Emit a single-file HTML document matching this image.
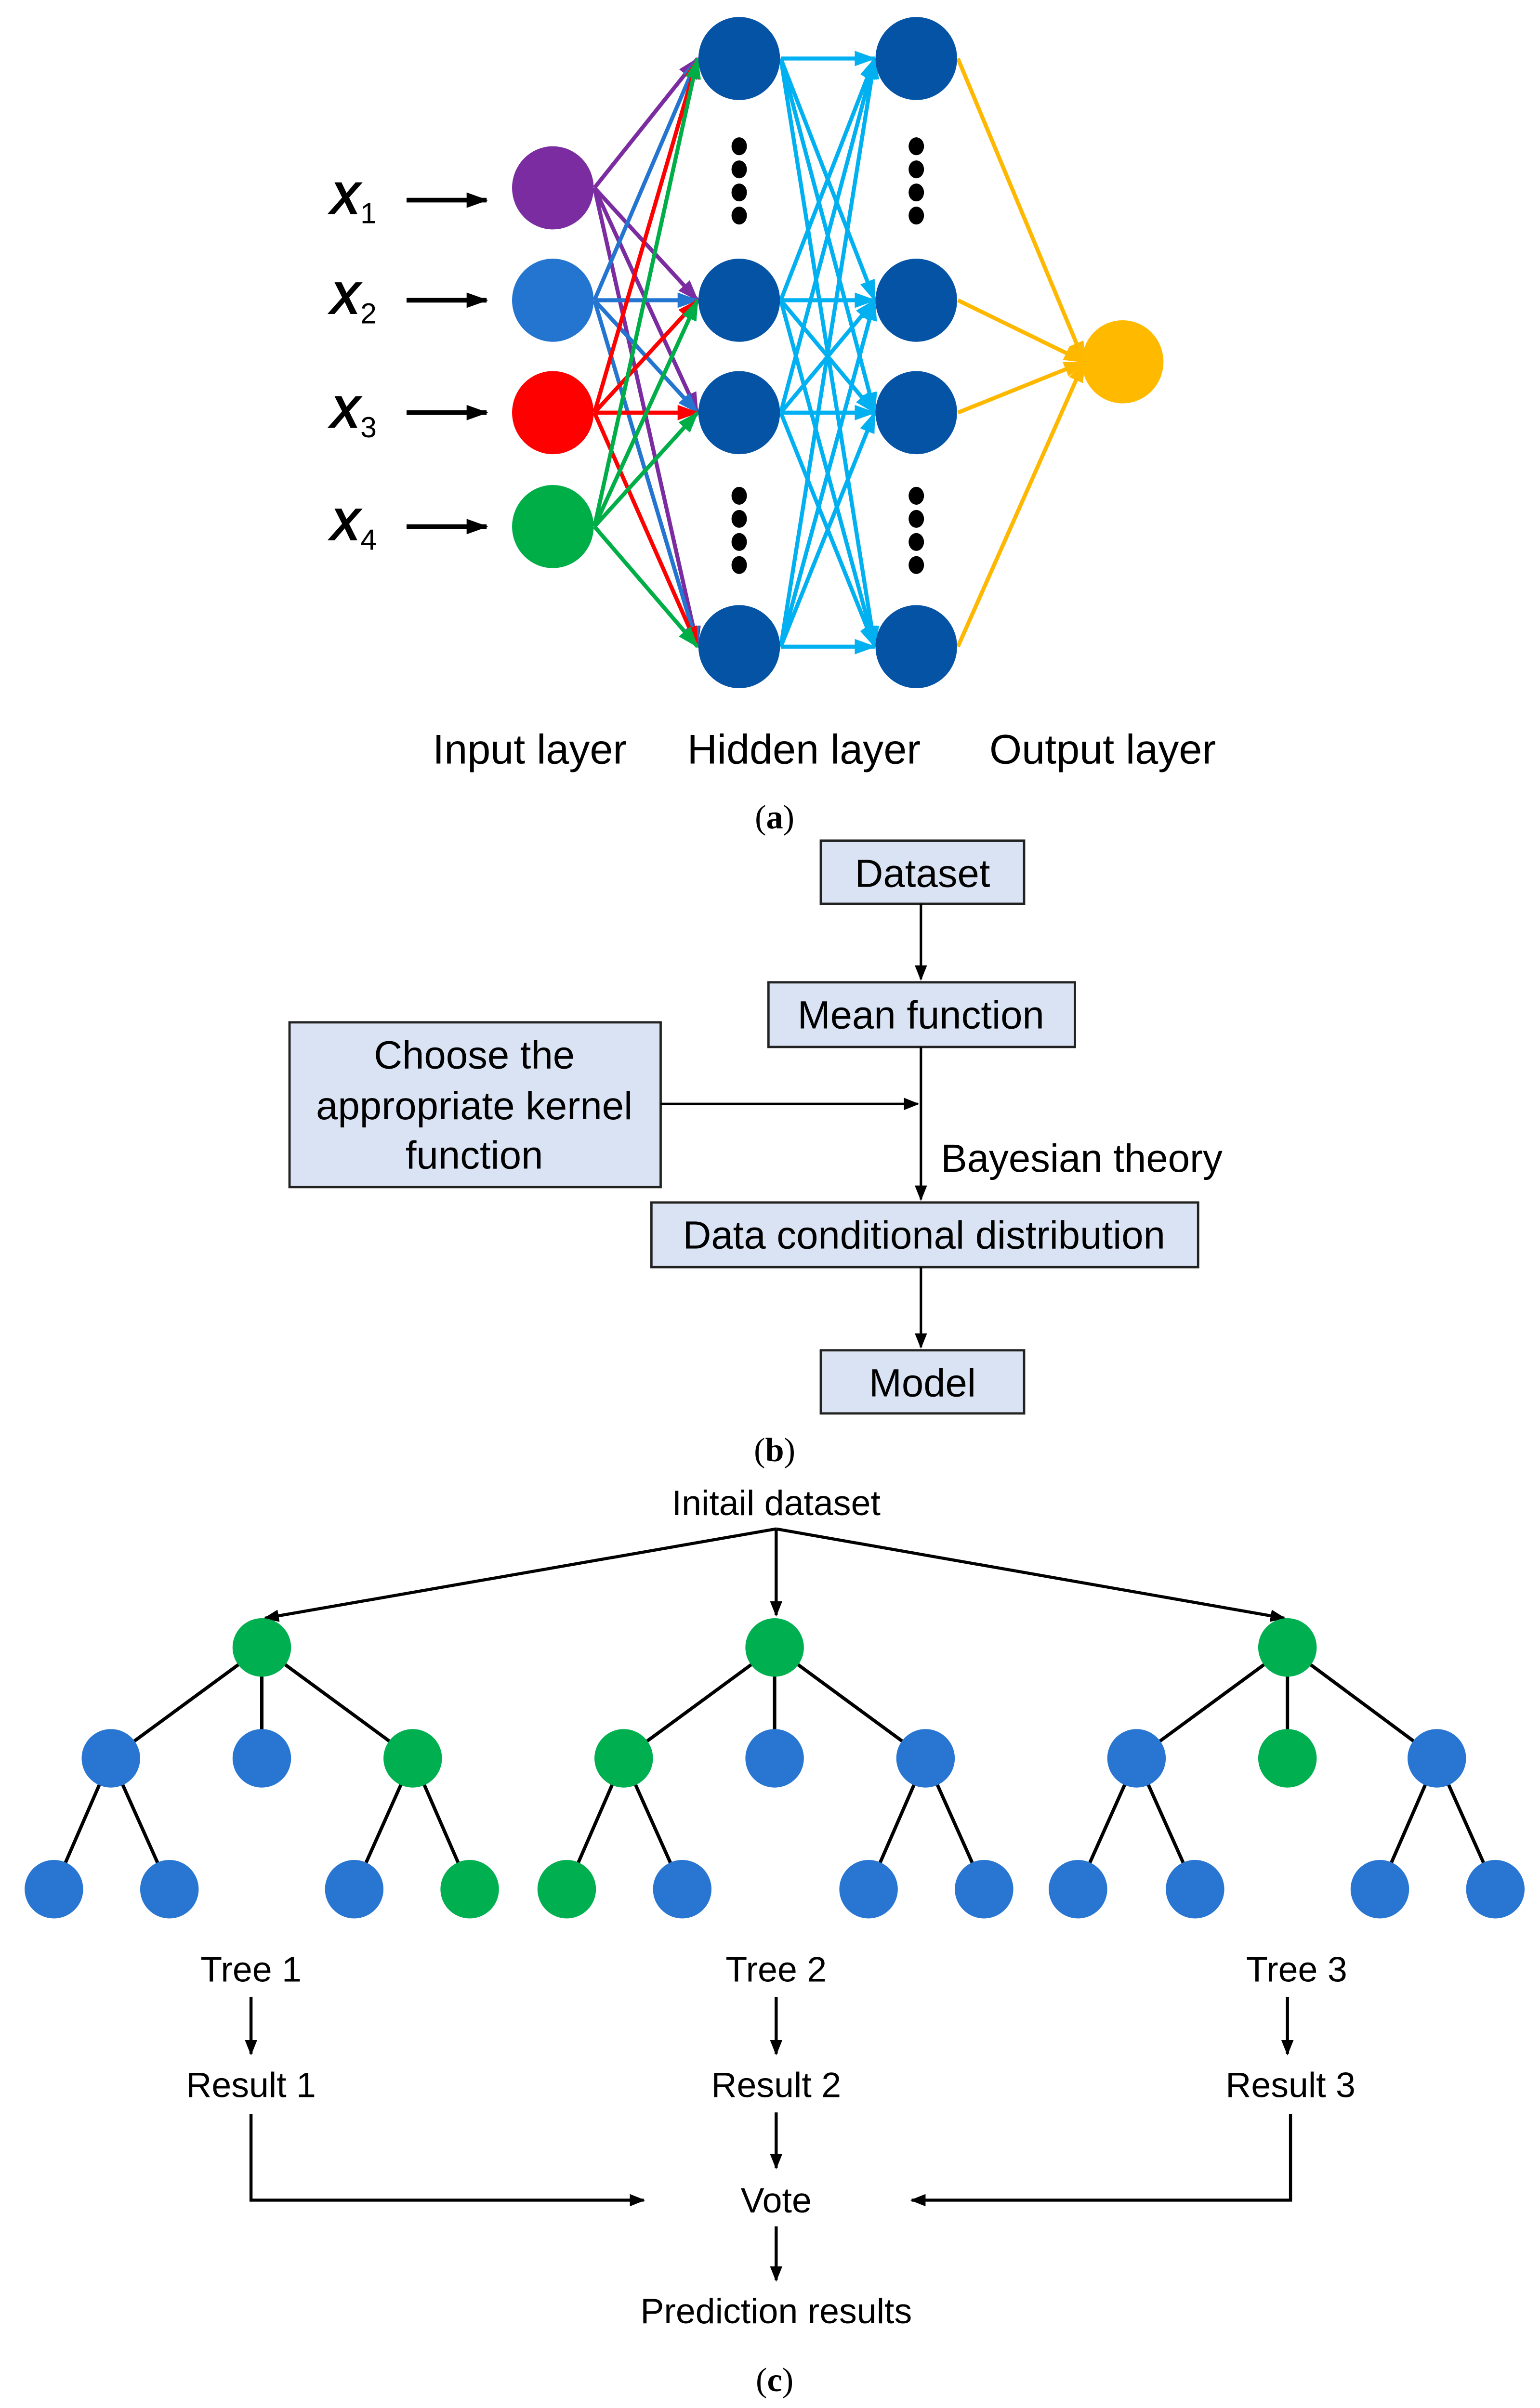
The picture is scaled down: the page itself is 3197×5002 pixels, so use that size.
<!DOCTYPE html>
<html><head><meta charset="utf-8"><style>
html,body{margin:0;padding:0;background:#fff;overflow:hidden;width:3197px;height:5002px;position:relative;}
svg{display:block;position:absolute;left:0;top:0;}
text{font-family:"Liberation Sans",Arial,sans-serif;}
</style></head><body>
<svg id="s" xmlns="http://www.w3.org/2000/svg" width="3197" height="5002" viewBox="0 0 1000 1564.6">
<defs>
<marker id="ab" markerWidth="10" markerHeight="8" refX="9" refY="4" orient="auto" markerUnits="userSpaceOnUse"><path d="M0,0 L10,4 L0,8 z" fill="#000"/></marker>
</defs>
<rect width="1000" height="1564.6" fill="#fff"/>
<g id="conn"></g>
<g id="nodes"></g>
<g font-style="italic" font-weight="bold" font-size="30">
<text x="214" y="139">X<tspan font-size="19" font-style="normal" font-weight="normal" dy="6">1</tspan></text>
<text x="214" y="204">X<tspan font-size="19" font-style="normal" font-weight="normal" dy="6">2</tspan></text>
<text x="214" y="278">X<tspan font-size="19" font-style="normal" font-weight="normal" dy="6">3</tspan></text>
<text x="214" y="351">X<tspan font-size="19" font-style="normal" font-weight="normal" dy="6">4</tspan></text>
</g>
<g font-size="27" text-anchor="middle">
<text x="344" y="496">Input layer</text>
<text x="522" y="496">Hidden layer</text>
<text x="716" y="496">Output layer</text>
</g>
<g font-size="22" text-anchor="middle">
<text x="503" y="538" style="font-family:'Liberation Serif',serif">(<tspan font-weight="bold">a</tspan>)</text>
<text x="503" y="949" style="font-family:'Liberation Serif',serif">(<tspan font-weight="bold">b</tspan>)</text>
<text x="503" y="1553" style="font-family:'Liberation Serif',serif">(<tspan font-weight="bold">c</tspan>)</text>
</g>
<g stroke="#222" stroke-width="1.5" fill="#DAE3F3">
<rect x="533" y="546" width="132" height="41"/>
<rect x="499" y="638" width="199" height="42"/>
<rect x="188" y="664" width="241" height="107"/>
<rect x="423" y="781" width="355" height="42"/>
<rect x="533" y="877" width="132" height="41"/>
</g>
<g stroke="#000" stroke-width="1.6" fill="none">
<line x1="598" y1="587" x2="598" y2="636" marker-end="url(#ab)"/>
<line x1="598" y1="680" x2="598" y2="779" marker-end="url(#ab)"/>
<line x1="429" y1="717" x2="596" y2="717" marker-end="url(#ab)"/>
<line x1="598" y1="823" x2="598" y2="875" marker-end="url(#ab)"/>
</g>
<g font-size="25.5" text-anchor="middle" fill="#000">
<text x="599" y="576">Dataset</text>
<text x="598" y="668">Mean function</text>
<text x="308" y="694">Choose the</text>
<text x="308" y="727">appropriate kernel</text>
<text x="308" y="759">function</text>
<text x="600" y="811">Data conditional distribution</text>
<text x="599" y="907">Model</text>
<text x="611" y="761" text-anchor="start">Bayesian theory</text>
</g>
<g font-size="23" text-anchor="middle" fill="#000">
<text x="504" y="984">Initail dataset</text>
<text x="163" y="1287">Tree 1</text>
<text x="504" y="1287">Tree 2</text>
<text x="842" y="1287">Tree 3</text>
<text x="163" y="1362">Result 1</text>
<text x="504" y="1362">Result 2</text>
<text x="838" y="1362">Result 3</text>
<text x="504" y="1437">Vote</text>
<text x="504" y="1509">Prediction results</text>
</g>
<g stroke="#000" stroke-width="2" fill="none">
<line x1="504" y1="993" x2="172" y2="1051" marker-end="url(#ab)"/>
<line x1="504" y1="993" x2="504" y2="1049" marker-end="url(#ab)"/>
<line x1="504" y1="993" x2="834" y2="1051" marker-end="url(#ab)"/>
<line x1="163" y1="1297" x2="163" y2="1334" marker-end="url(#ab)"/>
<line x1="504" y1="1297" x2="504" y2="1334" marker-end="url(#ab)"/>
<line x1="836" y1="1297" x2="836" y2="1334" marker-end="url(#ab)"/>
<line x1="504" y1="1372" x2="504" y2="1408" marker-end="url(#ab)"/>
<line x1="504" y1="1446" x2="504" y2="1481" marker-end="url(#ab)"/>
<polyline points="163,1373 163,1429 418,1429" marker-end="url(#ab)"/>
<polyline points="838,1373 838,1429 592,1429" marker-end="url(#ab)"/>
</g>
<g id="trees"></g>
</svg>
<script>
var NS="http://www.w3.org/2000/svg";
function el(p,t,a){var e=document.createElementNS(NS,t);for(var k in a)e.setAttribute(k,a[k]);p.appendChild(e);return e;}
var svg=document.getElementById('s'),defs=svg.querySelector('defs');
var conn=document.getElementById('conn'),nodes=document.getElementById('nodes');
var mk={};
function marker(c){if(mk[c])return mk[c];var id='m'+c.replace('#','');var m=el(defs,'marker',{id:id,markerWidth:14,markerHeight:10,refX:13,refY:5,orient:'auto',markerUnits:'userSpaceOnUse'});el(m,'path',{d:'M0,0 L14,5 L0,10 z',fill:c});mk[c]=id;return id;}
function arrow(x1,y1,x2,y2,c,w,head){var a={x1:x1,y1:y1,x2:x2,y2:y2,stroke:c,'stroke-width':w};if(head)a['marker-end']='url(#'+marker(c)+')';el(conn,'line',a);}
var R=27;
var inY=[122,195,268,342],inC=['#7B2CA0','#2475D0','#FF0000','#00AE48'];
var hY=[38,195,268,420];
var xY=[130,195,268,342];
for(var i=0;i<4;i++){arrow(264,xY[i],316,xY[i],'#000',3,true);}
for(var i=0;i<4;i++)for(var j=0;j<4;j++)arrow(359+R,inY[i],480-R,hY[j],inC[i],2.6,true);
for(var i=0;i<4;i++)for(var j=0;j<4;j++)arrow(480+R,hY[i],595-R,hY[j],'#00B0F0',2.6,true);
for(var i=0;i<4;i++)arrow(595+R,hY[i],729-R+2,235,'#FFB800',2.6,true);
for(var i=0;i<4;i++)el(nodes,'ellipse',{cx:359,cy:inY[i],rx:26.5,ry:27,fill:inC[i]});
[480,595].forEach(function(x){hY.forEach(function(y){el(nodes,'ellipse',{cx:x,cy:y,rx:26.5,ry:27,fill:'#0553A5'});});});
[480,595].forEach(function(x){[95,110,125,140,322,337,352,367].forEach(function(y){el(nodes,'ellipse',{cx:x,cy:y,rx:5,ry:5.8,fill:'#000'});});});
el(nodes,'ellipse',{cx:729,cy:235,rx:26.5,ry:27,fill:'#FFBA00'});
var tg=document.getElementById('trees');
var B='#2876D2',G='#00B050';
var lv1=[170,503,836];
var lv2=[[72,B],[170,B],[268,G],[405,G],[503,B],[601,B],[738,B],[836,G],[933,B]];
var lv3=[[35,B,72],[110,B,72],[230,B,268],[305,G,268],[368,G,405],[443,B,405],[564,B,601],[639,B,601],[700,B,738],[776,B,738],[896,B,933],[971,B,933]];
var tl=el(tg,'g',{stroke:'#000','stroke-width':2.2});
lv2.forEach(function(n,k){el(tl,'line',{x1:lv1[Math.floor(k/3)],y1:1070,x2:n[0],y2:1142});});
lv3.forEach(function(n){el(tl,'line',{x1:n[2],y1:1142,x2:n[0],y2:1227});});
lv1.forEach(function(x){el(tg,'circle',{cx:x,cy:1070,r:19,fill:G});});
lv2.forEach(function(n){el(tg,'circle',{cx:n[0],cy:1142,r:19,fill:n[1]});});
lv3.forEach(function(n){el(tg,'circle',{cx:n[0],cy:1227,r:19,fill:n[1]});});
</script>
</body></html>
